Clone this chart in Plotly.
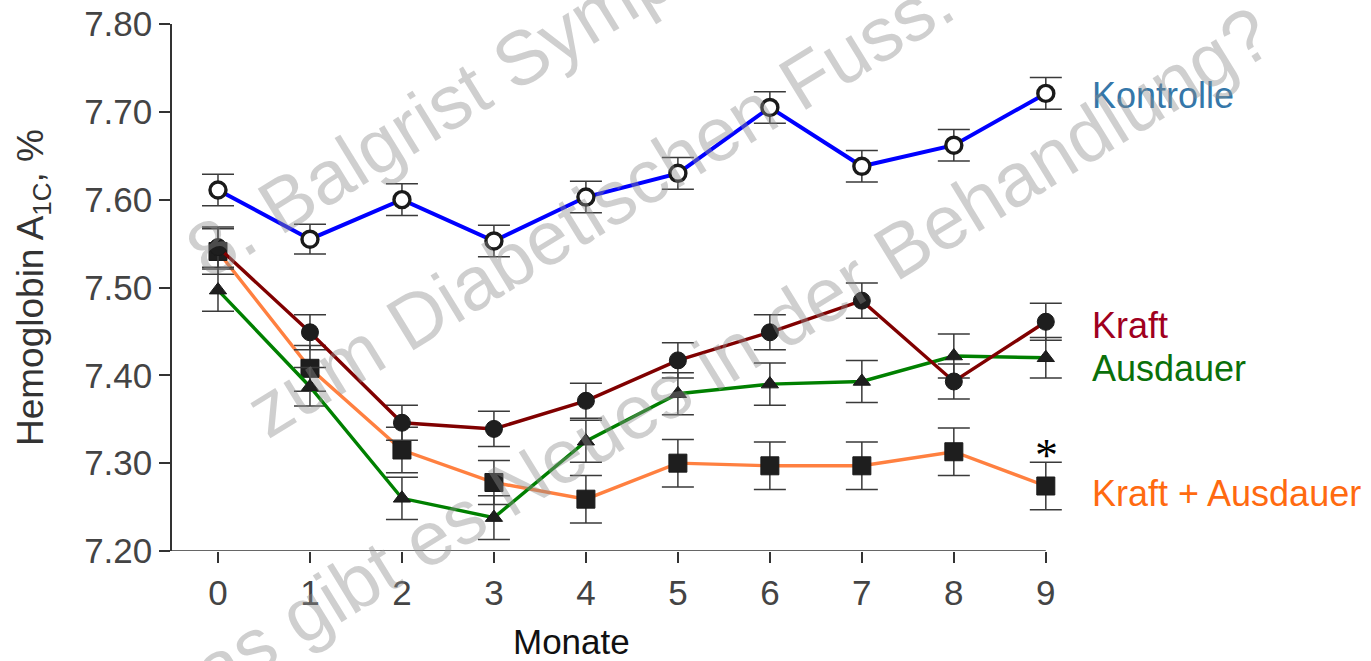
import plotly.graph_objects as go

# --- data -----------------------------------------------------------------
months = [0, 1, 2, 3, 4, 5, 6, 7, 8, 9]
month_labels = ["0", "1", "2", "3", "4", "5", "6", "7", "8", "9"]

kontrolle = [7.611, 7.555, 7.600, 7.553, 7.603, 7.630, 7.705, 7.638, 7.662, 7.721]
kontrolle_err = [0.018, 0.017, 0.018, 0.018, 0.018, 0.018, 0.018, 0.018, 0.018, 0.018]

kraft = [7.546, 7.449, 7.346, 7.339, 7.371, 7.417, 7.449, 7.485, 7.393, 7.461]
kraft_err = [0.023, 0.020, 0.020, 0.020, 0.020, 0.020, 0.020, 0.020, 0.020, 0.021]

ausdauer = [7.497, 7.387, 7.260, 7.238, 7.325, 7.379, 7.390, 7.393, 7.422, 7.420]
ausdauer_err = [0.024, 0.022, 0.024, 0.025, 0.024, 0.024, 0.024, 0.024, 0.025, 0.023]

kraft_ausdauer = [7.541, 7.408, 7.315, 7.278, 7.259, 7.300, 7.297, 7.297, 7.313, 7.274]
kraft_ausdauer_err = [0.026, 0.026, 0.026, 0.025, 0.027, 0.027, 0.027, 0.027, 0.027, 0.027]

y_ticks = [7.20, 7.30, 7.40, 7.50, 7.60, 7.70, 7.80]
y_tick_labels = ["7.20", "7.30", "7.40", "7.50", "7.60", "7.70", "7.80"]

W, H = 1371, 661
L, R, T, B = 172, 1101, 24, 551          # plot box in pixels
X_RANGE = [-0.5, 9.6]
Y_RANGE = [7.2, 7.8]


def px(xp):
    return (xp - L) / (R - L)


def py(yp):
    return (B - yp) / (B - T)


FONT = "Liberation Sans, Arial, sans-serif"
ERR_COLOR = "#3a3a3a"


def series(y, err, color, width, symbol, size, fill, line_w):
    return go.Scatter(
        x=months, y=y, mode="lines+markers", cliponaxis=False,
        line=dict(color=color, width=width),
        marker=dict(symbol=symbol, size=size, color=fill,
                    line=dict(color="#1a1a1a", width=line_w)),
        error_y=dict(type="data", array=err, visible=True,
                     color=ERR_COLOR, thickness=1.5, width=16),
        showlegend=False, hoverinfo="x+y",
    )


fig = go.Figure()
fig.add_trace(series(kraft_ausdauer, kraft_ausdauer_err, "#ff8040", 3.4,
                     "square", 18, "#1e1e1e", 1))
fig.add_trace(series(ausdauer, ausdauer_err, "#008000", 3.4,
                     "triangle-up", 15, "#1e1e1e", 1))
fig.add_trace(series(kraft, kraft_err, "#800000", 3.4,
                     "circle", 17, "#1e1e1e", 1))
fig.add_trace(series(kontrolle, kontrolle_err, "#0000ff", 4,
                     "circle", 16, "#ffffff", 3.4))

# x axis baseline stops at month 9
fig.add_shape(type="line", xref="x", yref="y", x0=-0.5, x1=9, y0=7.2, y1=7.2,
              line=dict(color="#333333", width=1.5), layer="above")

annotations = []

# series labels on the right
for text, yy, col in [("Kontrolle", 95, "#3577a9"),
                      ("Kraft", 325, "#a0001e"),
                      ("Ausdauer", 368, "#0a700a"),
                      ("Kraft + Ausdauer", 493, "#ff6a10")]:
    annotations.append(dict(text=text, xref="paper", yref="paper",
                            x=px(1090), y=py(yy), xanchor="left", yanchor="middle",
                            showarrow=False, font=dict(family=FONT, size=36, color=col)))

# significance marker above the last combined-training point
annotations.append(dict(text="*", xref="paper", yref="paper", x=px(1046), y=py(455),
                        xanchor="center", yanchor="middle", showarrow=False,
                        font=dict(family="Liberation Serif, serif", size=46, color="#000000")))

# axis titles
annotations.append(dict(text="Monate", xref="paper", yref="paper", x=px(571), y=py(641),
                        xanchor="center", yanchor="middle", showarrow=False,
                        font=dict(family=FONT, size=35, color="#111111")))
annotations.append(dict(text="Hemoglobin A<sub>1C</sub>, %", xref="paper", yref="paper",
                        x=px(33), y=py(288), xanchor="center", yanchor="middle",
                        textangle=-90, showarrow=False,
                        font=dict(family=FONT, size=37, color="#333333")))

# diagonal watermark lines
wm_font = dict(family=FONT, size=76, color="rgba(140,140,140,0.42)")
for text, cx, cy in [("8. Balgrist Symposium", 516, 60),
                     ("zum Diabetischen Fuss:", 599, 205),
                     ("was gibt es Neues in der Behandlung?", 708, 366)]:
    annotations.append(dict(text=text, xref="paper", yref="paper", x=px(cx), y=py(cy),
                            xanchor="center", yanchor="middle", textangle=-31.5,
                            showarrow=False, font=wm_font))

fig.update_layout(
    width=W, height=H,
    margin=dict(l=L, r=W - R, t=T, b=H - B, autoexpand=False),
    paper_bgcolor="white", plot_bgcolor="white",
    font=dict(family=FONT),
    annotations=annotations,
    xaxis=dict(range=X_RANGE, tickmode="array", tickvals=months, ticktext=month_labels,
               automargin=False,
               showline=False, showgrid=False, zeroline=False,
               ticks="outside", ticklen=11, tickwidth=1.5, tickcolor="#333333",
               tickfont=dict(family=FONT, size=35, color="#444444")),
    yaxis=dict(range=Y_RANGE, tickmode="array", tickvals=y_ticks, ticktext=y_tick_labels,
               automargin=False,
               showline=True, linecolor="#333333", linewidth=1.5,
               showgrid=False, zeroline=False,
               ticks="outside", ticklen=11, tickwidth=1.5, tickcolor="#333333",
               tickfont=dict(family=FONT, size=35, color="#444444")),
)

fig.write_html("out.html")
